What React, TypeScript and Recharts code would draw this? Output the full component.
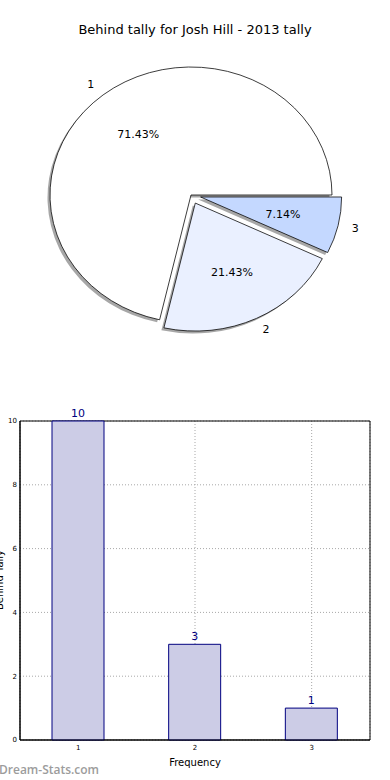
import React from 'react';
import {
  PieChart, Pie, Cell, BarChart, Bar, XAxis, YAxis, CartesianGrid,
  LabelList, ReferenceArea,
} from 'recharts';

const sliceNames = ['1', '2', '3'];
const sliceValues = [10, 3, 1];
const sliceColors = ['#ffffff', '#eaf0ff', '#c4d8ff'];
const sliceExplode = [0, 0.07, 0.07];

const barCategories = ['1', '2', '3'];
const barValues = [10, 3, 1];
const yTicks = [0, 2, 4, 6, 8, 10];

const FONT = '"DejaVu Sans", sans-serif';
const RAD = Math.PI / 180;

// pie geometry (matplotlib draws it squashed, so scale it vertically)
const R = 141;
const CX = 191;
const CY = 195;
const K = 128 / 141;

const pieData = sliceNames.map((name, i) => ({ name, value: sliceValues[i] }));
const barData = barCategories.map((cat, i) => ({ cat, value: barValues[i] }));

const total = sliceValues.reduce((a, b) => a + b, 0);
const midAngles = sliceValues.map((v, i) => {
  const before = sliceValues.slice(0, i).reduce((a, b) => a + b, 0);
  return ((before + v / 2) / total) * 360;
});
const offsets = midAngles.map((a, i) => ({
  x: sliceExplode[i] * R * Math.cos(a * RAD),
  y: -sliceExplode[i] * R * Math.sin(a * RAD),
}));

const makeLabel = (visible: number) => (props: any) => {
  if (props.index !== visible) return null;
  const { cx, cy, midAngle, percent } = props;
  const cos = Math.cos(-midAngle * RAD);
  const sin = Math.sin(-midAngle * RAD);
  const ox = cx + R * 1.1 * cos;
  const oy = cy + R * 1.1 * sin;
  const px = cx + R * 0.6 * cos;
  const py = cy + R * 0.6 * sin;
  const unsquash = (y: number) => `translate(0 ${y}) scale(1 ${1 / K}) translate(0 ${-y})`;
  return (
    <g>
      <text x={ox} y={oy} transform={unsquash(oy)} textAnchor={cos > 0 ? 'start' : 'end'}
        dominantBaseline="central" fontSize={11} fontFamily={FONT} fill="#000">
        {sliceNames[visible]}
      </text>
      <text x={px} y={py} transform={unsquash(py)} textAnchor="middle"
        dominantBaseline="central" fontSize={11} fontFamily={FONT} fill="#000">
        {(percent * 100).toFixed(2)}%
      </text>
    </g>
  );
};

const renderYLabel = () => (
  <text x={3} y={180} transform="rotate(-90 3 180)" textAnchor="middle"
    fontSize={10} fontFamily={FONT} fill="#000">
    Behind Tally
  </text>
);

export default function App() {
  return (
    <div style={{ position: 'absolute', left: 0, top: 0, width: 390, height: 780, background: '#fff', overflow: 'hidden' }}>
      <div style={{ position: 'absolute', left: 0, top: 21, width: 390, textAlign: 'center', fontFamily: FONT, fontSize: 13, lineHeight: '18px' }}>
        Behind tally for Josh Hill - 2013 tally
      </div>
      <div style={{ position: 'absolute', left: 0, top: 0, width: 390, height: 390, transform: `scaleY(${K})`, transformOrigin: `0 ${CY}px` }}>
        <PieChart width={390} height={390} margin={{ top: 0, right: 0, bottom: 0, left: 0 }}>
          {sliceNames.map((_, s) => (
            <Pie key={`sh${s}`} data={pieData} dataKey="value" nameKey="name"
              cx={CX + offsets[s].x - 2.5} cy={CY + offsets[s].y + 2.5 / K}
              outerRadius={R} startAngle={0} endAngle={360} isAnimationActive={false}>
              {pieData.map((_, i) => (
                <Cell key={i} fill={i === s ? '#8a8a8a' : 'none'} fillOpacity={0.75} stroke="none" />
              ))}
            </Pie>
          ))}
          {sliceNames.map((_, s) => (
            <Pie key={`w${s}`} data={pieData} dataKey="value" nameKey="name"
              cx={CX + offsets[s].x} cy={CY + offsets[s].y}
              outerRadius={R} startAngle={0} endAngle={360} isAnimationActive={false}
              label={makeLabel(s)} labelLine={false}>
              {pieData.map((_, i) => (
                <Cell key={i} fill={i === s ? sliceColors[i] : 'none'}
                  stroke={i === s ? '#000' : 'none'} strokeWidth={0.8} />
              ))}
            </Pie>
          ))}
        </PieChart>
      </div>
      <div style={{ position: 'absolute', left: 0, top: 400 }}>
        <BarChart width={390} height={380} data={barData} margin={{ top: 21, right: 20, bottom: 0, left: 0 }}>
          <CartesianGrid stroke="#a8a8a8" strokeDasharray="1 2" />
          <XAxis dataKey="cat" height={40} tickLine={false} tickSize={0} tickMargin={5}
            axisLine={{ stroke: '#000' }} tick={{ fontSize: 7, fill: '#000', fontFamily: FONT }}
            label={{ value: 'Frequency', position: 'insideBottom', offset: 14, fontSize: 10, fill: '#000', fontFamily: FONT }} />
          <YAxis width={20} domain={[0, 10]} ticks={yTicks} interval={0} tickLine={false} tickSize={0} tickMargin={3}
            axisLine={{ stroke: '#000' }} tick={{ fontSize: 7, fill: '#000', fontFamily: FONT }}
            label={renderYLabel} />
          <Bar dataKey="value" barSize={52} fill="#cccce6" stroke="#000080" strokeWidth={1} isAnimationActive={false}>
            <LabelList dataKey="value" position="top" offset={4} fill="#000080" fontSize={11} fontFamily={FONT} />
          </Bar>
          <ReferenceArea y1={0} y2={10} fill="none" stroke="#000" strokeWidth={1} />
        </BarChart>
      </div>
      <div style={{ position: 'absolute', left: -1, top: 762, fontFamily: '"Open Sans", sans-serif', fontWeight: 600, fontSize: 12, color: '#9c9c9c', lineHeight: '16px' }}>
        Dream-Stats.com
      </div>
    </div>
  );
}
